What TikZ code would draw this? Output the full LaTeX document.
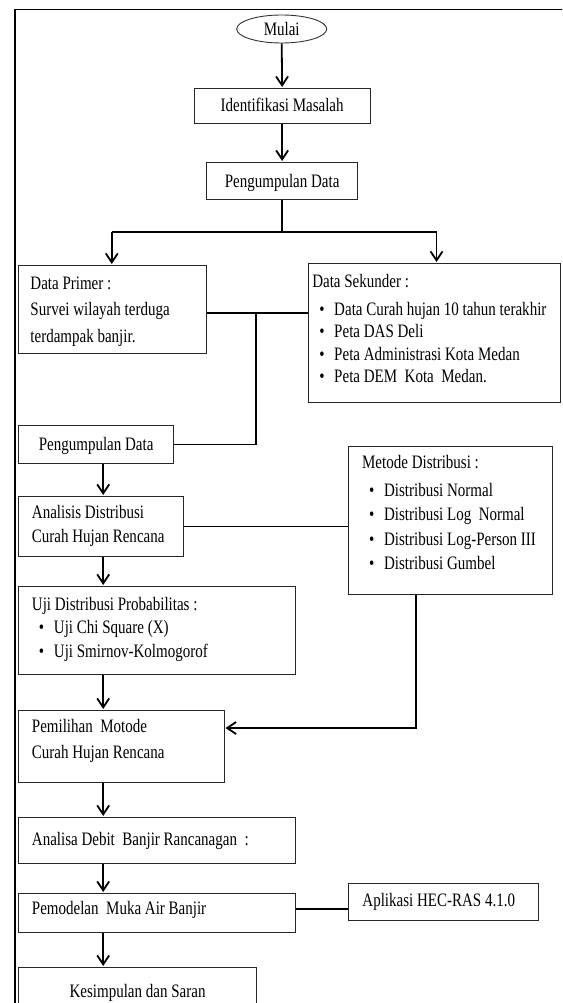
\documentclass[tikz,border=0pt]{standalone}
\usepackage{fontspec}
\setmainfont{Liberation Serif}[FakeStretch=0.79]
\usetikzlibrary{arrows.meta,shapes.geometric}

% left aligned box text: width, height, top skip, baselineskip, left pad, content
\newcommand\lbx[6]{\parbox[c][#2][t]{#1}{\raggedright\leftskip=#5\relax\baselineskip=#4\relax\lineskiplimit=-100pt\relax\vspace*{#3}\rule{0pt}{15pt}#6}}
% centred box text: width, height, top skip, content
\newcommand\cbx[4]{\parbox[c][#2][t]{#1}{\centering\vspace*{#3}\rule{0pt}{15pt}#4}}
\newcommand\bl{\hspace*{7pt}\makebox[15pt][l]{\textbullet}}

\begin{document}
\begin{tikzpicture}[x=1pt,y=-1pt,
  bx/.style={draw=black!85,line width=0.9pt,inner sep=0pt,anchor=north west,
    font=\fontsize{19}{24}\selectfont},
  startnode/.style={draw=black!80,line width=0.9pt,ellipse,minimum width=90pt,
    minimum height=28pt,inner sep=0pt,font=\fontsize{19}{24}\selectfont},
  conn/.style={line width=1.9pt,black},
  arr/.style={line width=1.8pt,black,-{Straight Barb[length=9pt,width=12pt]},shorten >=1pt},
  frame/.style={line width=1.5pt,black}]
\useasboundingbox (0,0) rectangle (562,1003);
\clip (0,0) rectangle (562,1003);
\fill[white] (0,0) rectangle (562,1003);

\draw[frame] (15,1010) -- (15,9.7) -- (570,9.7);

\node[startnode] (mulai) at (281.7,29) {Mulai};
\node[bx] (ident) at (193.5,88) {\cbx{176.4pt}{35pt}{8pt}{Identifikasi Masalah}};
\node[bx] (peng1) at (206.4,162) {\cbx{150.6pt}{37pt}{10pt}{Pengumpulan Data}};
\node[bx] (primer) at (18.3,265) {\lbx{188.1pt}{88pt}{9pt}{24pt}{11.7pt}{Data Primer :\\[2.5pt]Survei wilayah terduga\\[2.5pt]terdampak banjir.}};
\node[bx] (sekunder) at (307.5,263) {\lbx{252.7pt}{139pt}{9pt}{22.5pt}{4.3pt}{Data Sekunder :\\[5.5pt]\bl Data Curah hujan 10 tahun terakhir\\\bl Peta DAS Deli\\\bl Peta Administrasi Kota Medan\\\bl Peta DEM~ Kota~ Medan.}};
\node[bx] (peng2) at (18.3,425) {\cbx{154.8pt}{38pt}{10pt}{Pengumpulan Data}};
\node[bx] (metode) at (348.4,446) {\lbx{203.2pt}{148pt}{7pt}{24.5pt}{13.3pt}{Metode Distribusi :\\[3.5pt]\bl Distribusi Normal\\\bl Distribusi Log~ Normal\\\bl Distribusi Log-Person III\\\bl Distribusi Gumbel}};
\node[bx] (analisis) at (18.3,496) {\lbx{164.5pt}{60pt}{7pt}{24pt}{13.2pt}{Analisis Distribusi\\Curah Hujan Rencana}};
\node[bx] (uji) at (18.3,586) {\lbx{276.3pt}{88pt}{9pt}{23.5pt}{13.2pt}{Uji Distribusi Probabilitas :\\\bl Uji Chi Square (X)\\\bl Uji Smirnov-Kolmogorof}};
\node[bx] (pemilihan) at (18.3,710) {\lbx{205.3pt}{72pt}{7pt}{26pt}{13.2pt}{Pemilihan~ Motode\\Curah Hujan Rencana}};
\node[bx] (analisa) at (18.3,817) {\lbx{276.3pt}{46pt}{13pt}{24pt}{13.2pt}{Analisa Debit~ Banjir Rancanagan~ :}};
\node[bx] (pemodelan) at (18.3,893) {\lbx{276.3pt}{39pt}{6pt}{24pt}{13.2pt}{Pemodelan~ Muka Air Banjir}};
\node[bx] (aplikasi) at (348.4,883) {\lbx{189.2pt}{37pt}{8pt}{24pt}{13.6pt}{Aplikasi HEC-RAS 4.1.0}};
\node[bx] (kesimpulan) at (18.3,967) {\cbx{237.6pt}{50pt}{15pt}{Kesimpulan dan Saran}};

% helper coordinates
\coordinate (col) at (103.2,0);
\coordinate (jl) at (111.8,232);
\coordinate (jr) at (436.5,232);
\coordinate (j1) at (255.9,313);
\coordinate (j2) at (416.1,728);
\coordinate (j3) at (0,909);

\draw[arr] (mulai.south) -- (ident.north);
\draw[arr] (ident.south) -- (peng1.north);
\draw[conn] (peng1.south) -- (peng1.south |- jl);
\draw[conn] (jl) -- (jr);
\draw[arr] (jl) -- (jl |- primer.north);
\draw[arr] (jr) -- (jr |- sekunder.north);
\draw[conn] (primer.east |- j1) -- (sekunder.west |- j1);
\draw[conn] (j1) |- (peng2.east);
\draw[arr] (peng2.south -| col) -- (analisis.north -| col);
\draw[conn] (analisis.east) -- (analisis.east -| metode.west);
\draw[arr] (analisis.south -| col) -- (uji.north -| col);
\draw[arr] (metode.south -| j2) |- (pemilihan.east |- j2);
\draw[arr] (uji.south -| col) -- (pemilihan.north -| col);
\draw[arr] (pemilihan.south -| col) -- (analisa.north -| col);
\draw[arr] (analisa.south -| col) -- (pemodelan.north -| col);
\draw[conn] (pemodelan.east |- j3) -- (aplikasi.west |- j3);
\draw[arr] (pemodelan.south -| col) -- (kesimpulan.north -| col);
\end{tikzpicture}
\end{document}
